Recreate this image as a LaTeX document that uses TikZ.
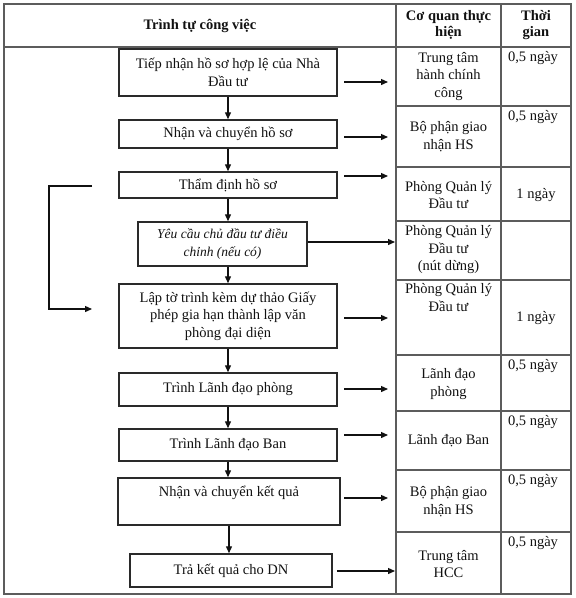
\documentclass[tikz,border=0pt]{standalone}
\usepackage{fontspec}
\setmainfont{Liberation Serif}
\usetikzlibrary{arrows.meta,positioning,calc}
\definecolor{pjink}{HTML}{111111}
\definecolor{pjbox}{HTML}{2A2A2A}
\definecolor{pjgrid}{HTML}{5C5C5C}
\tikzset{
  taskbox/.style={rectangle,draw=pjbox,line width=1.5pt,inner sep=0pt,
                  minimum width=218pt,align=center,text=pjink,
                  font=\fontsize{14.5}{17.5}\selectfont},
  cell/.style={inner sep=0pt,align=center,text=pjink,
               font=\fontsize{14.5}{17.5}\selectfont},
  head/.style={cell,font=\fontsize{14.5}{16}\selectfont\bfseries},
  flow/.style={-{Triangle[length=7pt,width=6pt]},line width=1.3pt,draw=pjink},
  grid/.style={draw=pjgrid,line width=1.5pt},
}

\begin{document}
\begin{tikzpicture}[x=1pt,y=-1pt]
\useasboundingbox (0,0) rectangle (576,598);
% table frame
\draw[grid] (4,4) rectangle (571,594);
\draw[grid] (4,47) -- (571,47);
\draw[grid] (396,4) -- (396,594);
\draw[grid] (501,4) -- (501,594);
\foreach \y in {106,167,221,280,355,411,470,532}
  \draw[grid] (396,\y) -- (571,\y);

\node[head] (h1) at (200,26) {Trình tự công việc};
\node[head] (h2) at (448.5,25) {Cơ quan thực\\hiện};
\node[head] (h3) at (536,25) {Thời\\gian};

% steps
\node[taskbox,minimum height=47pt] (b1) at (228,72.5) {Tiếp nhận hồ sơ hợp lệ của Nhà\\Đầu tư};
\node[taskbox,minimum height=28pt] (b2) at (228,134) {Nhận và chuyển hồ sơ};
\node[taskbox,minimum height=26pt] (b3) at (228,185) {Thẩm định hồ sơ};
\node[taskbox,minimum width=169pt,minimum height=44pt,
      font=\fontsize{13.5}{18}\selectfont\itshape] (b4) at (222.5,244)
      {Yêu cầu chủ đầu tư điều\\chỉnh (nếu có)};
\node[taskbox,minimum height=64pt] (b5) at (228,316)
      {Lập tờ trình kèm dự thảo Giấy\\phép gia hạn thành lập văn\\phòng đại diện};
\node[taskbox,minimum height=33pt] (b6) at (228,389.5) {Trình Lãnh đạo phòng};
\node[taskbox,minimum height=32pt] (b7) at (228,445) {Trình Lãnh đạo Ban};
\node[taskbox,minimum width=222pt,text height=18pt,text depth=29pt] (b8) at (229,501.5)
      {Nhận và chuyển kết quả};
\node[taskbox,minimum width=202pt,minimum height=33pt] (b9) at (231,570.5) {Trả kết quả cho DN};

\draw[flow] (b1) -- (b2);
\draw[flow] (b2) -- (b3);
\draw[flow] (b3.south) -- (b3.south |- b4.north);
\draw[flow] (b4.south -| b5.north) -- (b5.north);
\draw[flow] (b5) -- (b6);
\draw[flow] (b6) -- (b7);
\draw[flow] (b7.south) -- (b7.south |- b8.north);
\draw[flow] (b8.south) -- (b8.south |- b9.north);

% side arrows
\coordinate (colA) at (395,0);
\foreach \y [count=\i] in {82,137,176,318,389,435,498}{
  \coordinate (s\i) at (344,\y);
  \coordinate (e\i) at (388,\y);
  \draw[flow] (s\i) -- (e\i);
}
\draw[flow] ([yshift=2pt]b4.east) -- ([yshift=2pt]b4.east -| colA);
\draw[flow] ([xshift=4pt,yshift=-0.5pt]b9.east) -- ([yshift=-0.5pt]b9.east -| colA);

% loop back
\coordinate (fbin) at (92,186);
\coordinate (fbout) at (92,309);
\draw[flow] (fbin) -- ++(-43,0) |- (fbout);

% units
\node[cell] (c1) at (448.5,76.5) {Trung tâm\\hành chính\\công};
\node[cell] (c2) at (448.5,136.5) {Bộ phận giao\\nhận HS};
\node[cell] (c3) at (448.5,195) {Phòng Quản lý\\Đầu tư};
\node[cell] (c4) at (448.5,250) {Phòng Quản lý\\Đầu tư\\(nút dừng)};
\node[cell,anchor=north] (c5) at (448.5,283.5) {Phòng Quản lý\\Đầu tư};
\node[cell] (c6) at (448.5,384) {Lãnh đạo\\phòng};
\node[cell] (c7) at (448.5,441) {Lãnh đạo Ban};
\node[cell] (c8) at (448.5,501.5) {Bộ phận giao\\nhận HS};
\node[cell] (c9) at (448.5,564) {Trung tâm\\HCC};

% time
\foreach \y [count=\i] in {61.5,120.5,369.5,425.5,484.5,546.5}
  \node[cell,anchor=base] (t\i) at (533,\y) {0,5 ngày};
\node[cell] (t7) at (536,195) {1 ngày};
\node[cell] (t8) at (536,318) {1 ngày};
\end{tikzpicture}
\end{document}
